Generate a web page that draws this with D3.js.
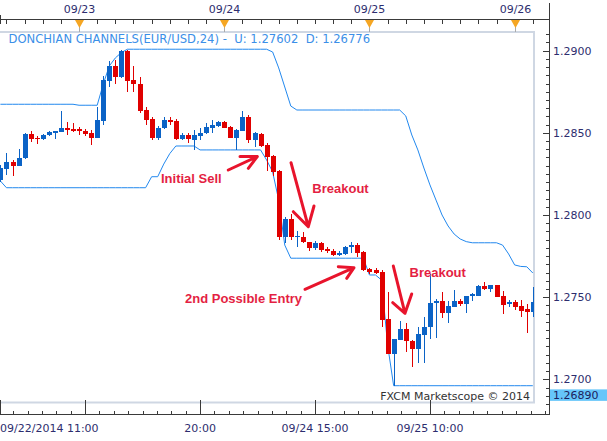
<!DOCTYPE html>
<html><head><meta charset="utf-8">
<script src="https://cdn.jsdelivr.net/npm/d3@7"></script>
<style>html,body{margin:0;padding:0;background:#fff;overflow:hidden}</style>
</head><body><svg id="c" width="607" height="441"></svg>
<script>
// ---------------- DATA ----------------
const startTime = [2014, 8, 22, 11]; // first hourly candle: 09/22/2014 11:00
const opens = [1.28213,1.28280,1.28324,1.28300,1.28345,1.28491,1.28471,1.28461,1.28485,1.28501,
1.28507,1.28531,1.28525,1.28522,1.28513,1.28499,1.28471,1.28574,1.28817,1.28907,
1.28838,1.28998,1.28822,1.28796,1.28639,1.28582,1.28471,1.28528,1.28578,1.28574,
1.28461,1.28487,1.28457,1.28481,1.28497,1.28531,1.28542,1.28566,1.28538,1.28471,
1.28513,1.28598,1.28457,1.28493,1.28426,1.28359,1.28268,1.27868,1.27978,1.27867,
1.27868,1.27834,1.27802,1.27828,1.27796,1.27781,1.27754,1.27760,1.27807,1.27819,
1.27775,1.27670,1.27666,1.27651,1.27364,1.27157,1.27239,1.27304,1.27234,1.27185,
1.27270,1.27320,1.27463,1.27477,1.27402,1.27442,1.27477,1.27457,1.27507,1.27510,
1.27568,1.27548,1.27572,1.27507,1.27456,1.27471,1.27446,1.27429,1.27412];
const highs = [1.28304,1.28376,1.28335,1.28402,1.28501,1.28511,1.28483,1.28493,1.28513,1.28513,
1.28635,1.28566,1.28560,1.28534,1.28525,1.28517,1.28659,1.28846,1.28939,1.28943,
1.29004,1.29004,1.28907,1.28842,1.28659,1.28595,1.28542,1.28595,1.28598,1.28582,
1.28497,1.28497,1.28517,1.28528,1.28558,1.28578,1.28574,1.28574,1.28542,1.28522,
1.28633,1.28609,1.28507,1.28501,1.28436,1.28365,1.28274,1.27990,1.28006,1.27903,
1.27898,1.27838,1.27844,1.27838,1.27807,1.27791,1.27783,1.27811,1.27834,1.27828,
1.27781,1.27679,1.27676,1.27666,1.27532,1.27245,1.27355,1.27345,1.27239,1.27318,
1.27378,1.27638,1.27486,1.27533,1.27478,1.27544,1.27487,1.27509,1.27524,1.27572,
1.27595,1.27574,1.27576,1.27536,1.27483,1.27483,1.27483,1.27460,1.27561];
const lows = [1.28201,1.28244,1.28237,1.28298,1.28343,1.28444,1.28434,1.28459,1.28483,1.28464,
1.28505,1.28489,1.28503,1.28487,1.28479,1.28426,1.28469,1.28548,1.28781,1.28797,
1.28836,1.28750,1.28750,1.28623,1.28548,1.28457,1.28457,1.28522,1.28548,1.28457,
1.28457,1.28436,1.28396,1.28457,1.28495,1.28501,1.28538,1.28528,1.28467,1.28396,
1.28511,1.28436,1.28416,1.28416,1.28268,1.28237,1.27848,1.27828,1.27848,1.27807,
1.27828,1.27781,1.27787,1.27777,1.27769,1.27753,1.27752,1.27758,1.27771,1.27746,
1.27659,1.27641,1.27641,1.27318,1.27155,1.26962,1.27237,1.27166,1.27077,1.27098,
1.27098,1.27244,1.27251,1.27371,1.27345,1.27440,1.27446,1.27405,1.27478,1.27508,
1.27544,1.27533,1.27499,1.27399,1.27442,1.27422,1.27381,1.27280,1.27381];
const closes = [1.28288,1.28324,1.28300,1.28349,1.28493,1.28464,1.28461,1.28487,1.28505,1.28511,
1.28531,1.28519,1.28513,1.28511,1.28495,1.28471,1.28578,1.28822,1.28907,1.28838,
1.28998,1.28817,1.28796,1.28635,1.28578,1.28471,1.28530,1.28578,1.28568,1.28461,
1.28487,1.28461,1.28487,1.28501,1.28538,1.28548,1.28566,1.28531,1.28471,1.28517,
1.28598,1.28457,1.28501,1.28422,1.28355,1.28264,1.27868,1.27978,1.27866,1.27875,
1.27836,1.27802,1.27828,1.27789,1.27778,1.27755,1.27771,1.27805,1.27819,1.27771,
1.27664,1.27655,1.27649,1.27363,1.27157,1.27244,1.27304,1.27231,1.27185,1.27276,
1.27320,1.27466,1.27477,1.27402,1.27446,1.27477,1.27457,1.27507,1.27517,1.27568,
1.27548,1.27572,1.27503,1.27454,1.27471,1.27442,1.27418,1.27412,1.27471];
const upperChannel = [1.28674,1.28674,1.28674,1.28674,1.28674,1.28674,1.28674,1.28674,1.28674,1.28674,
1.28674,1.28674,1.28674,1.28668,1.28668,1.28668,1.28668,1.28797,1.28907,1.28956,
1.28989,1.29009,1.29009,1.29009,1.29009,1.29009,1.29009,1.29009,1.29009,1.29009,
1.29009,1.29009,1.29009,1.29009,1.29009,1.29009,1.29009,1.29009,1.29009,1.29009,
1.29009,1.29009,1.29009,1.29009,1.29009,1.28992,1.28895,1.28779,1.28663,1.28639,
1.28639,1.28639,1.28639,1.28639,1.28639,1.28639,1.28639,1.28639,1.28639,1.28639,
1.28639,1.28639,1.28639,1.28639,1.28639,1.28639,1.28639,1.28603,1.28487,1.28396,
1.28286,1.28183,1.28091,1.28000,1.27933,1.27884,1.27854,1.27838,1.27831,1.27831,
1.27831,1.27831,1.27831,1.27817,1.27763,1.27696,1.27687,1.27685,1.27647];
const lowerChannel = [1.28207,1.28166,1.28166,1.28166,1.28166,1.28166,1.28166,1.28166,1.28166,1.28166,
1.28166,1.28166,1.28166,1.28166,1.28166,1.28166,1.28166,1.28166,1.28166,1.28166,
1.28166,1.28166,1.28166,1.28166,1.28166,1.28233,1.28233,1.28310,1.28374,1.28420,
1.28420,1.28420,1.28420,1.28396,1.28396,1.28396,1.28396,1.28396,1.28396,1.28396,
1.28396,1.28396,1.28396,1.28396,1.28335,1.28262,1.28091,1.27817,1.27737,1.27737,
1.27737,1.27737,1.27737,1.27737,1.27737,1.27737,1.27737,1.27737,1.27737,1.27737,
1.27737,1.27635,1.27635,1.27604,1.27209,1.26961,1.26961,1.26961,1.26961,1.26961,
1.26961,1.26961,1.26961,1.26961,1.26961,1.26961,1.26961,1.26961,1.26961,1.26961,
1.26961,1.26961,1.26961,1.26961,1.26961,1.26961,1.26961,1.26961,1.26961];
const priceTicks = [1.2900, 1.2850, 1.2800, 1.2750, 1.2700];
const priceLabels = ["1.2900", "1.2850", "1.2800", "1.2750", "1.2700"];
const currentPrice = 1.2689;
const currentPriceLabel = "1.26890";
const dayMarks = [[2014,8,23],[2014,8,24],[2014,8,25],[2014,8,26]];
const dayLabels = ["09/23", "09/24", "09/25", "09/26"];
const bottomMajorTimes = [[2014,8,23,1],[2014,8,23,20],[2014,8,24,15],[2014,8,25,10]];
const bottomLabelTimes = [[2014,8,22,11],[2014,8,23,20],[2014,8,24,15],[2014,8,25,10]];
const bottomLabels = ["09/22/2014 11:00", "20:00", "09/24 15:00", "09/25 10:00"];
const legendText = "DONCHIAN CHANNELS(EUR/USD,24) -  U: 1.27602  D: 1.26776";
const credit = "FXCM Marketscope \u00A9 2014";
const annotationTexts = ["Initial Sell", "Breakout", "2nd Possible Entry", "Breakout"];

// ---------------- LAYOUT ----------------
const HOUR = 3600e3;
const mk = a => new Date(a[0], a[1], a[2], a[3] || 0);
const t0 = mk(startTime);
const times = opens.map((_, i) => new Date(+t0 + i * HOUR));
const x = d3.scaleTime().domain([t0, new Date(+t0 + 90 * HOUR)]).range([0.4, 0.4 + 90 * 6.05]);
const y = d3.scaleLinear().domain([1.27, 1.29]).range([379.3, 50.7]);

const AXX = 549.5, PL = 0, PR = 534.5, PT = 32, PB = 402.5;
const svg = d3.select("#c");
const axisCol = "#3a3a3a", labelCol = "#2d2d6e";
const fontAx = "'DejaVu Sans', Verdana, sans-serif";

svg.append("rect").attr("width", 607).attr("height", 441).attr("fill", "#fff");

// plot frame
svg.append("rect").attr("x", -2).attr("y", PT).attr("width", PR + 2 - 0.5).attr("height", PB - PT)
  .attr("fill", "none").attr("stroke", "#cfd7e3").attr("stroke-width", 2);

const defs = svg.append("defs");
defs.append("clipPath").attr("id", "clip").append("rect")
  .attr("x", 0).attr("y", PT + 1).attr("width", PR - 0.5).attr("height", PB - PT - 2);
const plot = svg.append("g").attr("clip-path", "url(#clip)");

// channels
const line = d3.line().x((d, i) => x(times[i])).y(d => y(d));
[upperChannel, lowerChannel].forEach(arr => {
  plot.append("path").attr("d", line(arr)).attr("fill", "none")
    .attr("stroke", "#2288ee").attr("stroke-width", 1);
});

// candles
const upCol = "#0b63c6", downCol = "#e00000";
const cg = plot.append("g").attr("shape-rendering", "crispEdges");
opens.forEach((o, i) => {
  const c = closes[i];
  const col = c >= o ? upCol : downCol;
  const cx = Math.round(x(times[i]));
  cg.append("line").attr("x1", cx + 0.5).attr("x2", cx + 0.5)
    .attr("y1", y(highs[i])).attr("y2", y(lows[i])).attr("stroke", col).attr("stroke-width", 1);
  const yt = y(Math.max(o, c)), yb = y(Math.min(o, c));
  cg.append("rect").attr("x", cx - 2).attr("width", 5)
    .attr("y", yt).attr("height", Math.max(1.2, yb - yt)).attr("fill", col);
});

// legend
svg.append("text").attr("x", 8.5).attr("y", 43).attr("fill", "#3b8fe8")
  .attr("font-family", fontAx).attr("font-size", "11.6px").style("white-space", "pre")
  .text(legendText);

// credit
svg.append("text").attr("x", 530).attr("y", 400).attr("text-anchor", "end")
  .attr("fill", "#333").attr("font-family", fontAx).attr("font-size", "11px").text(credit);

// ---- right price axis ----
const ra = svg.append("g").attr("shape-rendering", "crispEdges");
ra.append("line").attr("x1", AXX).attr("x2", AXX).attr("y1", 3).attr("y2", 415).attr("stroke", axisCol);
d3.range(12685, 12911, 5).forEach(v => {
  const yy = Math.round(y(v / 10000)) + 0.5;
  const major = v % 50 === 0;
  ra.append("line").attr("x1", AXX - (major ? 7 : 3.5)).attr("x2", AXX).attr("y1", yy).attr("y2", yy)
    .attr("stroke", axisCol);
});
priceTicks.forEach((p, i) => {
  svg.append("text").attr("x", 553).attr("y", y(p) + 4).attr("fill", labelCol)
    .attr("font-family", fontAx).attr("font-size", "11px").text(priceLabels[i]);
});
// current price box
svg.append("rect").attr("x", 550).attr("y", y(currentPrice) - 8).attr("width", 57).attr("height", 11.5)
  .attr("fill", "#66c6fa");
svg.append("text").attr("x", 553).attr("y", y(currentPrice) + 1.8).attr("fill", "#1d1d5e")
  .attr("font-family", fontAx).attr("font-size", "11px").text(currentPriceLabel);

// ---- top time axis ----
const ta = svg.append("g").attr("shape-rendering", "crispEdges");
ta.append("line").attr("x1", 0).attr("x2", AXX).attr("y1", 19.5).attr("y2", 19.5).attr("stroke", axisCol);
d3.timeHour.every(3).range(new Date(2014, 8, 22, 12), new Date(2014, 8, 26, 6)).forEach(t => {
  const xx = Math.round(x(t)) + 0.5;
  if (xx < AXX) ta.append("line").attr("x1", xx).attr("x2", xx).attr("y1", 19.5).attr("y2", 24).attr("stroke", axisCol);
});
ta.append("line").attr("x1", 0.5).attr("x2", 0.5).attr("y1", 15).attr("y2", 24).attr("stroke", axisCol);
dayMarks.forEach((d, i) => {
  const xx = Math.round(x(mk(d))) + 0.5;
  svg.append("line").attr("x1", xx).attr("x2", xx).attr("y1", 24).attr("y2", 32)
    .attr("stroke", "#aaa").attr("shape-rendering", "crispEdges");
  svg.append("path").attr("d", `M${xx - 4.5},20 L${xx + 4.5},20 L${xx},28 Z`).attr("fill", "#f5a623");
  svg.append("text").attr("x", xx).attr("y", 13).attr("text-anchor", "middle").attr("fill", labelCol)
    .attr("font-family", fontAx).attr("font-size", "11px").text(dayLabels[i]);
});

// ---- bottom time axis ----
const ba = svg.append("g").attr("shape-rendering", "crispEdges");
const BY = 414.5;
ba.append("line").attr("x1", 0).attr("x2", AXX).attr("y1", BY).attr("y2", BY).attr("stroke", axisCol);
ba.append("line").attr("x1", 0.5).attr("x2", 0.5).attr("y1", 400).attr("y2", BY).attr("stroke", axisCol);
const majors = bottomMajorTimes.map(mk);
const step = (+majors[1] - +majors[0]) / 8;
for (let t = +majors[0] - 5 * step; t < +majors[3] + 9 * step; t += step) {
  const xx = Math.round(x(new Date(t))) + 0.5;
  if (xx <= 0 || xx >= AXX) continue;
  const isMajor = majors.some(m => Math.abs(+m - t) < 1000);
  ba.append("line").attr("x1", xx).attr("x2", xx).attr("y1", isMajor ? 400 : BY - 3.5).attr("y2", BY)
    .attr("stroke", axisCol);
}
bottomLabelTimes.map(mk).forEach((t, i) => {
  svg.append("text").attr("x", i === 0 ? 0 : x(t)).attr("y", 432)
    .attr("text-anchor", i === 0 ? "start" : "middle").attr("fill", labelCol)
    .attr("font-family", fontAx).attr("font-size", "11px").text(bottomLabels[i]);
});

// ---- annotations ----
const annPos = [[161, 182.7], [312.3, 192.7], [185, 302.5], [409.5, 276.5]];
annotationTexts.forEach((t, i) => {
  svg.append("text").attr("x", annPos[i][0]).attr("y", annPos[i][1]).attr("fill", "#e41f43")
    .attr("font-family", "'Liberation Sans', Arial, sans-serif").attr("font-weight", "bold")
    .attr("font-size", "13px").text(t);
});
const arrows = [
  [[228.3, 170], [257.3, 156.5], [240, 156.5], [257.3, 156.5], [248.3, 168.3]],
  [[291, 162.7], [308.3, 226.7], [293.3, 211.7], [308.3, 226.7], [314, 206]],
  [[305, 289.3], [354, 267.7], [338.3, 266.7], [354, 267.7], [346.7, 278.3]],
  [[393.3, 266], [405, 313.3], [392.7, 302.7], [405, 313.3], [411.7, 294]]
];
arrows.forEach(a => {
  const d = `M${a[0]}L${a[1]}M${a[2]}L${a[3]}L${a[4]}`;
  svg.append("path").attr("d", d).attr("fill", "none").attr("stroke", "#e8142c")
    .attr("stroke-width", 3).attr("stroke-linecap", "round").attr("stroke-linejoin", "round");
});
</script></body></html>
